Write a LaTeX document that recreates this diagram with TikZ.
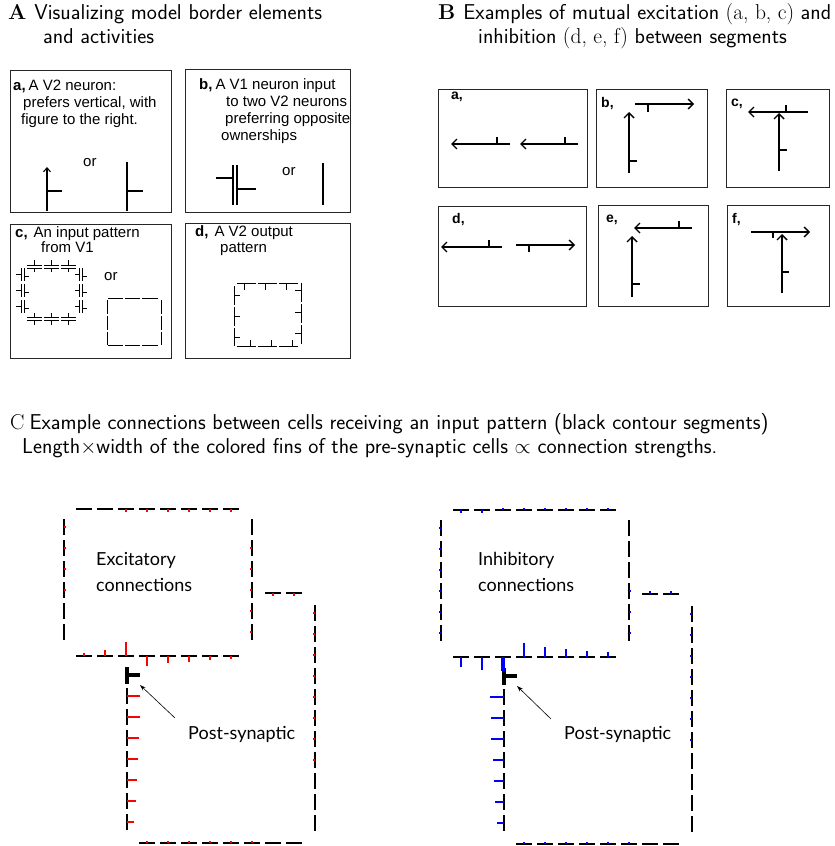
\documentclass[tikz,border=0pt]{standalone}
\usepackage{fontspec}
\newfontfamily\arial{Liberation Sans}
\newfontfamily\lato{Lato}
\usetikzlibrary{arrows.meta}
\tikzset{
  pbox/.style={draw=black!85, line width=0.9pt},
  atext/.style={anchor=base west, inner sep=0pt, font=\arial\fontsize{15}{17}\selectfont},
  blabel/.style={anchor=base west, inner sep=0pt, font=\arial\bfseries\fontsize{14}{16}\selectfont},
  head/.style={anchor=base west, inner sep=0pt, font=\fontsize{21.5}{24}\selectfont},
  gl/.style={line width=1.1pt},
  garrow/.style={line width=1.1pt, -{Straight Barb[length=4pt,width=7pt]}},
  barrow/.style={line width=1.4pt, -{Straight Barb[length=5pt,width=10pt]}},
  cdash/.style={line width=1.6pt},
  rt/.style={red, line width=2pt},
  bt/.style={blue, line width=2pt},
  ctext/.style={anchor=base west, inner sep=0pt, font=\lato\fontsize{18}{22}\selectfont},
  parrow/.style={line width=0.6pt, -{Stealth[length=6pt,width=4pt]}},
  post/.style={line width=3.5pt}
}
\newcommand{\hd}[4]{\foreach \i in {1,...,#3}{\draw[cdash] ({#1+(\i-1)*#4},#2) -- ++(16,0);}}
\newcommand{\vd}[4]{\foreach \i in {1,...,#3}{\draw[cdash] (#1,{#2+(\i-1)*#4}) -- ++(0,16);}}
\newcommand{\cellcontour}{%
  \hd{76}{509}{8}{21}
  \vd{64}{519}{6}{21}
  \vd{252}{519}{6}{21}
  \hd{76}{656}{8}{21}
  \hd{265}{593}{2}{21}
  \vd{315}{605}{11}{21}
  \hd{139}{843}{8}{21}
  \vd{127}{688}{7}{21}
  \draw[post] (127,667) -- (127,684);
  \draw[post] (127,675) -- (140,675);
}
\begin{document}
\begin{tikzpicture}[x=1pt,y=-1pt]
\useasboundingbox[fill=white] (0,0) rectangle (835,846);

% ---------------- headings
\node[head] (hA1) at (8,19) {\textbf{A}\hspace{8pt}\sffamily Visualizing model border elements};
\node[head] (hA2) at (43,43) {\sffamily and activities};
\node[head] (hB1) at (438,19) {\textbf{B}\hspace{8pt}{\sffamily Examples of mutual excitation} (a, b, c) {\sffamily and}};
\node[head] (hB2) at (478,43) {{\sffamily inhibition} (d, e, f) {\sffamily between segments}};
\node[head] (hC1) at (10,429) {C\hspace{5pt}\sffamily Example connections between cells receiving an input pattern (black contour segments)};
\node[head] (hC2) at (22,453) {\sffamily Length$\times$width of the colored fins of the pre-synaptic cells $\propto$ connection strengths.};

% ---------------- panel A boxes
\draw[pbox] (10,70) rectangle (171,212);
\draw[pbox] (185,69) rectangle (350,212);
\draw[pbox] (10,224) rectangle (171,358);
\draw[pbox] (185,223) rectangle (350,358);

% box a
\node[atext] (a1) at (13,90) {\textbf{a,}\hspace{3pt}A V2 neuron:};
\node[atext] (a2) at (23,107) {prefers vertical, with};
\node[atext] (a3) at (21,124) {figure to the right.};
\node[atext] (aor) at (83,166) {or};
\draw[garrow] (47,211) -- (47,167);
\draw[gl] (47,191) -- (62,191);
\draw[gl] (127,162) -- (127,211);
\draw[gl] (127,191) -- (143,191);

% box b
\node[atext] (b1) at (199,89) {\textbf{b,}\hspace{3pt}A V1 neuron input};
\node[atext] (b2) at (226,106) {to two V2 neurons};
\node[atext] (b3) at (225,123) {preferring opposite};
\node[atext] (b4) at (221,140) {ownerships};
\node[atext] (bor) at (282,175) {or};
\draw[gl] (233,165) -- (233,205);
\draw[gl] (237,165) -- (237,205);
\draw[gl] (216,178) -- (233,178);
\draw[gl] (237,189) -- (256,189);
\draw[gl] (323,163) -- (323,205);

% box c
\node[atext] (c1) at (15,237) {\textbf{c,}\hspace{6pt}An input pattern};
\node[atext] (c2) at (41,252) {from V1};
\node[atext] (cor) at (104,280) {or};
\foreach \a/\b in {27/42,44/59,61/76}{
  \draw[line width=0.8pt] (\a,265) -- (\b,265);
  \draw[line width=0.8pt] (\a,268) -- (\b,268);
  \draw[line width=0.8pt] ({(\a+\b)/2},265) -- ({(\a+\b)/2},260);
  \draw[line width=0.8pt] ({(\a+\b)/2},268) -- ({(\a+\b)/2},272);
  \draw[line width=0.8pt] (\a,317) -- (\b,317);
  \draw[line width=0.8pt] (\a,320) -- (\b,320);
  \draw[line width=0.8pt] ({(\a+\b)/2},317) -- ({(\a+\b)/2},313);
  \draw[line width=0.8pt] ({(\a+\b)/2},320) -- ({(\a+\b)/2},325);
}
\foreach \a/\b in {268/281,284/297,300/313}{
  \draw[line width=0.8pt] (21,\a) -- (21,\b);
  \draw[line width=0.8pt] (24,\a) -- (24,\b);
  \draw[line width=0.8pt] (21,{(\a+\b)/2}) -- (16,{(\a+\b)/2});
  \draw[line width=0.8pt] (24,{(\a+\b)/2+2}) -- (29,{(\a+\b)/2+2});
  \draw[line width=0.8pt] (79,\a) -- (79,\b);
  \draw[line width=0.8pt] (82,\a) -- (82,\b);
  \draw[line width=0.8pt] (79,{(\a+\b)/2}) -- (75,{(\a+\b)/2});
  \draw[line width=0.8pt] (82,{(\a+\b)/2+2}) -- (87,{(\a+\b)/2+2});
}
\foreach \a/\b in {108/123,125/140,142/158}{
  \draw[line width=0.8pt] (\a,298) -- (\b,298);
  \draw[line width=0.8pt] (\a,345) -- (\b,345);
}
\foreach \a/\b in {300/314,316/330,332/345}{
  \draw[line width=0.8pt] (107,\a) -- (107,\b);
  \draw[line width=0.8pt] (161,\a) -- (161,\b);
}

% box d
\node[atext] (d1) at (195,236) {\textbf{d,}\hspace{6pt}A V2 output};
\node[atext] (d2) at (220,252) {pattern};
\foreach \a/\b/\t in {237/256/244,258/277/265,279/298/286}{
  \draw[line width=0.9pt] (\a,283) -- (\b,283);
  \draw[line width=0.9pt] (\t,283) -- (\t,290);
}
\foreach \a/\b/\t in {237/256/250,258/277/271,279/298/292}{
  \draw[line width=0.9pt] (\a,346) -- (\b,346);
  \draw[line width=0.9pt] (\t,346) -- (\t,340);
}
\foreach \a/\b/\t in {286/305/295,307/326/316,328/346/337}{
  \draw[line width=0.9pt] (234,\a) -- (234,\b);
  \draw[line width=0.9pt] (234,\t) -- (240,\t);
}
\foreach \a/\b/\t in {283/302/290,304/323/312,325/344/333}{
  \draw[line width=0.9pt] (301,\a) -- (301,\b);
  \draw[line width=0.9pt] (301,\t) -- (295,\t);
}

% ---------------- panel B
\draw[pbox] (438,89) rectangle (587,187);
\draw[pbox] (596,89) rectangle (707,187);
\draw[pbox] (726,89) rectangle (829,187);
\draw[pbox] (438,206) rectangle (586,306);
\draw[pbox] (598,205) rectangle (708,306);
\draw[pbox] (727,205) rectangle (829,306);
\node[blabel] (la) at (451,99) {a,};
\node[blabel] (lb) at (601,107) {b,};
\node[blabel] (lc) at (731,106) {c,};
\node[blabel] (ld) at (452,223) {d,};
\node[blabel] (le) at (606,222) {e,};
\node[blabel] (lf) at (732,223) {f,};
% a
\draw[barrow] (510,144) -- (451,144); \draw[gl] (497,144) -- (497,137);
\draw[barrow] (578,144) -- (520,144); \draw[gl] (565,144) -- (565,137);
% b
\draw[barrow] (629,173) -- (629,112); \draw[gl] (629,161) -- (637,161);
\draw[barrow] (635,104) -- (694,104); \draw[gl] (648,104) -- (648,112);
% c
\draw[barrow] (808,112) -- (748,112); \draw[gl] (786,112) -- (786,105);
\draw[barrow] (779,171) -- (779,113); \draw[gl] (779,150) -- (787,150);
% d
\draw[barrow] (502,247) -- (441,247); \draw[gl] (489,247) -- (489,240);
\draw[barrow] (516,245) -- (575,245); \draw[gl] (529,245) -- (529,252);
% e
\draw[barrow] (632,297) -- (632,236); \draw[gl] (632,284) -- (640,284);
\draw[barrow] (692,228) -- (634,228); \draw[gl] (679,228) -- (679,221);
% f
\draw[barrow] (751,232) -- (810,232); \draw[gl] (773,232) -- (773,238);
\draw[barrow] (782,293) -- (782,234); \draw[gl] (782,272) -- (789,272);

% ---------------- panel C left (excitatory)
\cellcontour
\foreach \k in {3,...,8} \draw[rt] ({84+(\k-1)*21},509) -- ++(0,2.5);
\foreach \k in {1,...,4} \draw[rt] (64,{527+(\k-1)*21}) -- ++(2,0);
\foreach \k in {2,...,6} \draw[rt] (252,{527+(\k-1)*21}) -- ++(-2,0);
\foreach \k/\l in {1/-3,2/-6,3/-14,4/10,5/7,6/6,7/4,8/3} \draw[rt] ({84+(\k-1)*21},656) -- ++(0,\l);
\foreach \k in {1,2} \draw[rt] ({273+(\k-1)*21},593) -- ++(0,2.5);
\foreach \k in {1,...,8} \draw[rt] (315,{613+(\k-1)*21}) -- ++(-2,0);
\foreach \k in {1,...,6} \draw[rt] ({147+(\k-1)*21},843) -- ++(0,-2.5);
\foreach \k/\l in {1/13,2/13,3/12,4/11,5/10,6/9,7/7} \draw[rt] (127,{696+(\k-1)*21}) -- ++(\l,0);
\node[ctext] (exc1) at (96,565) {Excitatory};
\node[ctext] (exc2) at (96,591) {connections};
\node[ctext] (ps1) at (188,739) {Post-synaptic};
\coordinate (pt1) at (140,685);
\coordinate (pf1) at (175,718);
\draw[parrow] (pf1) -- (pt1);

% ---------------- panel C right (inhibitory)
\begin{scope}[shift={(377,1)}]
\cellcontour
\foreach \k/\l in {1/2.5,2/2.5,3/-2.5,4/-2.5,5/-2.5,6/-2.5,7/-2.5,8/-2.5} \draw[bt] ({84+(\k-1)*21},509) -- ++(0,\l);
\foreach \k in {1,...,6} \draw[bt] (64,{527+(\k-1)*21}) -- ++(-2.5,0);
\foreach \k in {4,5,6} \draw[bt] (252,{527+(\k-1)*21}) -- ++(2,0);
\foreach \k/\l in {1/10,2/13,4/-14,5/-10,6/-8,7/-6,8/-5} \draw[bt] ({84+(\k-1)*21},656) -- ++(0,\l);
\draw[blue, line width=4pt] (126,656) -- (126,670);
\foreach \k in {1,2} \draw[bt] ({273+(\k-1)*21},593) -- ++(0,-3);
\foreach \k in {1,...,7} \draw[bt] (315,{613+(\k-1)*21}) -- ++(-2,0);
\foreach \k in {1,...,6} \draw[bt] ({147+(\k-1)*21},843) -- ++(0,-2.5);
\foreach \k/\l in {1/14,2/13,3/13,4/11,5/10,6/9,7/7} \draw[bt] (127,{696+(\k-1)*21}) -- ++(-\l,0);
\end{scope}
\node[ctext] (inh1) at (478,565) {Inhibitory};
\node[ctext] (inh2) at (478,591) {connections};
\node[ctext] (ps2) at (564,739) {Post-synaptic};
\coordinate (pt2) at (517,686);
\coordinate (pf2) at (551,719);
\draw[parrow] (pf2) -- (pt2);
\end{tikzpicture}
\end{document}
